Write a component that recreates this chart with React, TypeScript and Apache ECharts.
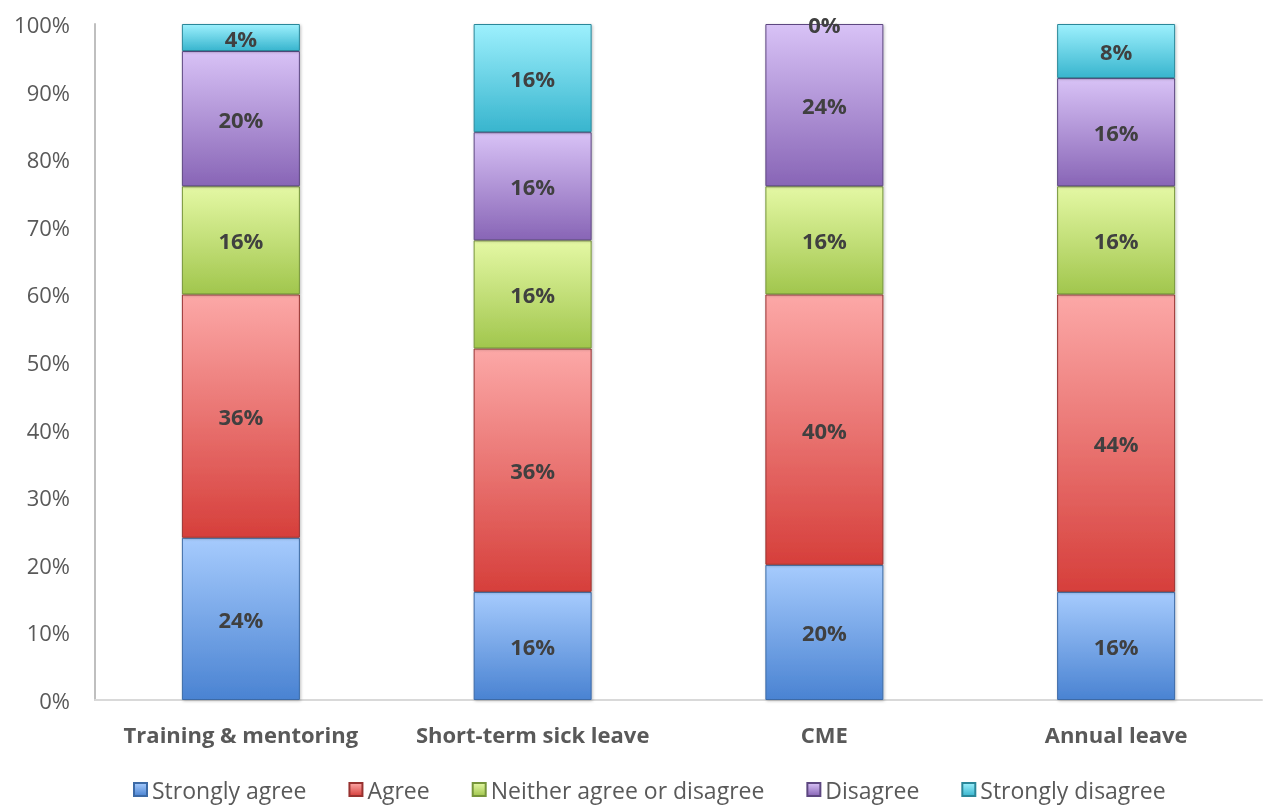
import React, { useEffect, useRef } from "react";
import * as echarts from "echarts";

const categories = ["Training & mentoring", "Short-term sick leave", "CME", "Annual leave"];
const stronglyAgree = [24, 16, 20, 16];
const agree = [36, 36, 40, 44];
const neither = [16, 16, 16, 16];
const disagree = [20, 16, 24, 16];
const stronglyDisagree = [4, 16, 0, 8];
const yTicks = [0, 10, 20, 30, 40, 50, 60, 70, 80, 90, 100];

const seriesDefs = [
  { name: "Strongly agree", data: stronglyAgree, top: "#a6cbfd", bottom: "#4a83d2", border: "#3c6aa6" },
  { name: "Agree", data: agree, top: "#fca8a7", bottom: "#d63f3b", border: "#983230" },
  { name: "Neither agree or disagree", data: neither, top: "#e4f8a4", bottom: "#a1c64d", border: "#76953a" },
  { name: "Disagree", data: disagree, top: "#d8c2f6", bottom: "#8865b6", border: "#5d4780" },
  { name: "Strongly disagree", data: stronglyDisagree, top: "#9df0fd", bottom: "#38b5ce", border: "#2a8799" },
];

const FONT = "'Open Sans', sans-serif";

export default function App() {
  const ref = useRef<HTMLDivElement>(null);
  useEffect(() => {
    if (!ref.current) return;
    const chart = echarts.init(ref.current, null, { renderer: "svg" });
    chart.setOption({
      animation: false,
      textStyle: { fontFamily: FONT },
      grid: { left: 95, right: 4, top: 24, bottom: 105, containLabel: false },
      legend: {
        left: 128,
        top: 773,
        icon: "rect",
        itemWidth: 13,
        itemHeight: 13,
        itemGap: 42,
        textStyle: { fontSize: 23, color: "#595959", fontFamily: FONT },
        data: seriesDefs.map((s) => s.name),
      },
      xAxis: {
        type: "category",
        data: categories,
        axisLine: { show: true, lineStyle: { color: "#d9d9d9", width: 2 } },
        axisTick: { show: false },
        axisLabel: {
          interval: 0,
          margin: 23,
          fontSize: 22,
          fontWeight: "bold",
          color: "#595959",
          fontFamily: FONT,
        },
      },
      yAxis: {
        type: "value",
        min: yTicks[0],
        max: yTicks[yTicks.length - 1],
        interval: 10,
        axisLine: { show: true, lineStyle: { color: "#bfbfbf", width: 2 } },
        axisTick: { show: false },
        splitLine: { show: false },
        axisLabel: {
          formatter: "{value}%",
          margin: 25,
          fontSize: 22,
          color: "#595959",
          fontFamily: FONT,
        },
      },
      series: seriesDefs.map((s) => ({
        name: s.name,
        type: "bar",
        stack: "total",
        barWidth: 118,
        data: s.data,
        itemStyle: {
          color: new echarts.graphic.LinearGradient(0, 0, 0, 1, [
            { offset: 0, color: s.top },
            { offset: 1, color: s.bottom },
          ]),
          borderColor: s.border,
          borderWidth: 1,
          shadowColor: "rgba(0,0,0,0.25)",
          shadowBlur: 3,
          shadowOffsetX: 1,
          shadowOffsetY: 1,
        },
        label: {
          show: true,
          position: "inside",
          formatter: "{c}%",
          fontSize: 22,
          fontWeight: "bold",
          color: "#404040",
          fontFamily: FONT,
        },
      })),
    });
    return () => chart.dispose();
  }, []);
  return (
    <div
      ref={ref}
      style={{ position: "fixed", left: 0, top: 0, width: 1266, height: 805 }}
    />
  );
}
